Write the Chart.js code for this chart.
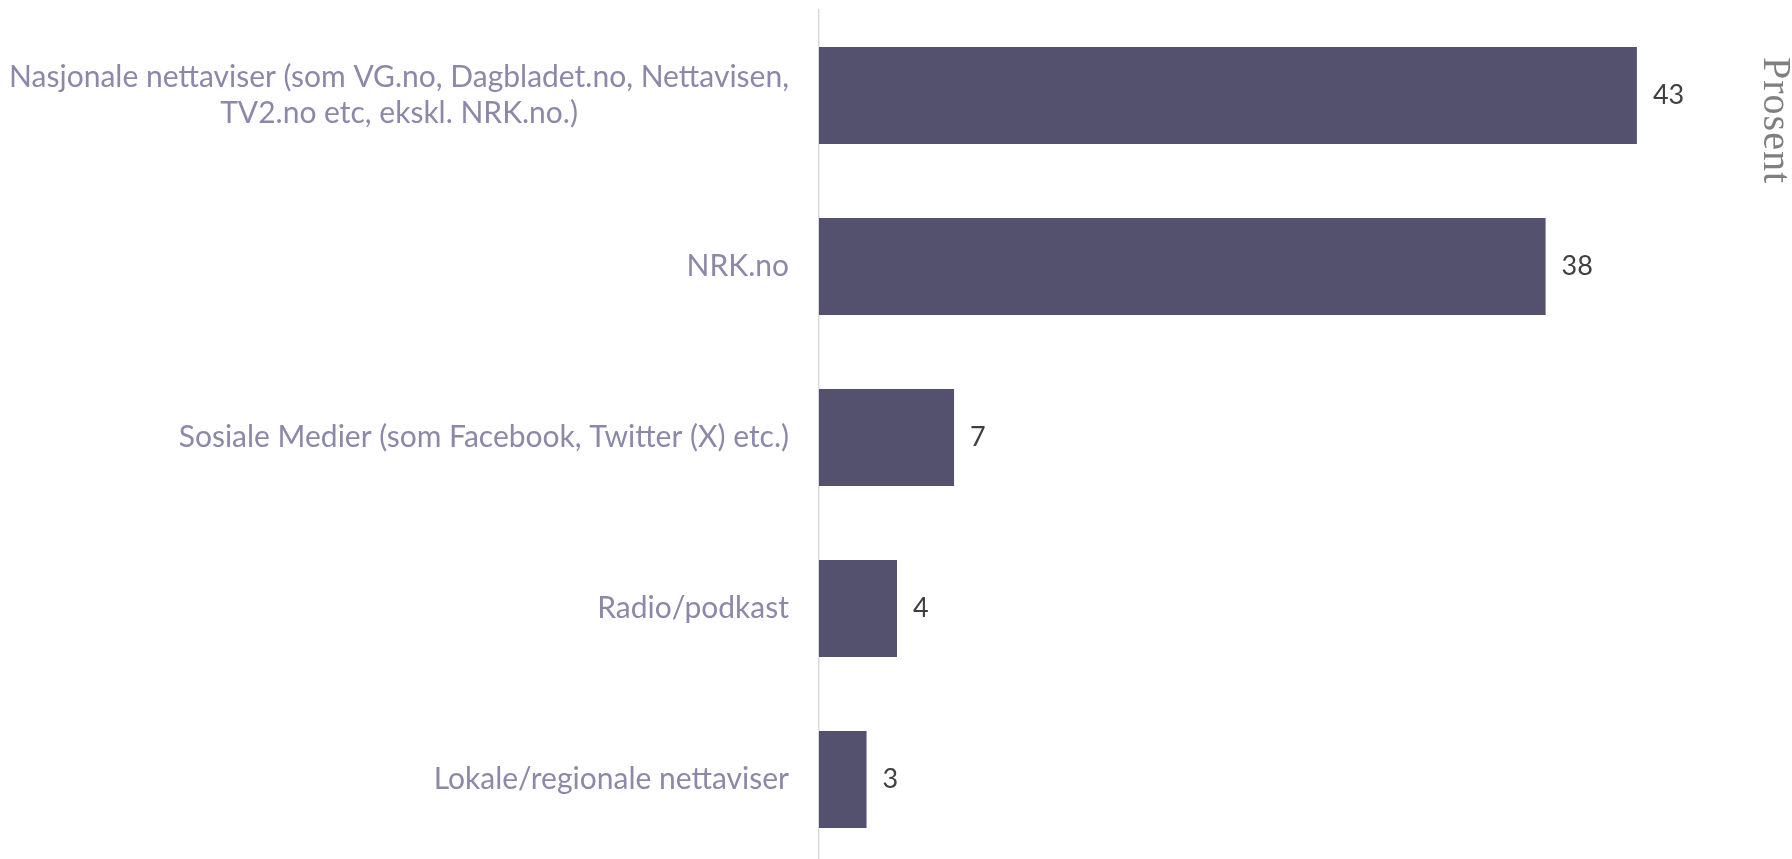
<!DOCTYPE html>
<html>
<head>
<meta charset="utf-8">
<script src="https://cdn.jsdelivr.net/npm/chart.js@4.4.1/dist/chart.umd.min.js"></script>
<style>
    html, body { margin: 0; padding: 0; background: #ffffff; overflow: hidden; }
    #wrap { width: 1792px; height: 866px; }
</style>
</head>
<body>
<div id="wrap"><canvas id="chart" width="1792" height="866"></canvas></div>
<script>
// 카테고리 (두 줄 라벨은 배열)
const categories = [
    ['Nasjonale nettaviser (som VG.no, Dagbladet.no, Nettavisen,', 'TV2.no etc, ekskl. NRK.no.)'],
    'NRK.no',
    'Sosiale Medier (som Facebook, Twitter (X) etc.)',
    'Radio/podkast',
    'Lokale/regionale nettaviser'
];
// 값 (퍼센트)
const shares = [43, 38.2, 7.1, 4.1, 2.5];
const axisTitle = 'Prosent';

const labelFont = '30px Lato';
const valueFont = '27px Lato';
const labelColor = '#8b88aa';
const valueColor = '#404040';
const barColor = '#54516f';

// 카테고리 라벨: 여러 줄은 가운데 정렬, 블록은 오른쪽 정렬
const categoryLabels = {
    id: 'categoryLabels',
    afterDraw(chart) {
        const ctx = chart.ctx;
        const yScale = chart.scales.y;
        const right = chart.chartArea.left - 30;
        const lineHeight = 36;
        ctx.save();
        ctx.font = labelFont;
        ctx.fillStyle = labelColor;
        ctx.textBaseline = 'middle';
        categories.forEach((label, i) => {
            const lines = Array.isArray(label) ? label : [label];
            const y = yScale.getPixelForValue(i);
            const widest = Math.max(...lines.map(l => ctx.measureText(l).width));
            const cx = right - widest / 2;
            ctx.textAlign = 'center';
            lines.forEach((line, k) => {
                const ly = y + (k - (lines.length - 1) / 2) * lineHeight;
                ctx.fillText(line, cx, ly);
            });
        });
        ctx.restore();
    }
};

// 막대 끝 값 라벨
const valueLabels = {
    id: 'valueLabels',
    afterDatasetsDraw(chart) {
        const ctx = chart.ctx;
        const meta = chart.getDatasetMeta(0);
        ctx.save();
        ctx.font = valueFont;
        ctx.fillStyle = valueColor;
        ctx.textAlign = 'left';
        ctx.textBaseline = 'middle';
        meta.data.forEach((bar, i) => {
            ctx.fillText(String(Math.round(shares[i])), bar.x + 16, bar.y);
        });
        ctx.restore();
    }
};

// 오른쪽 세로 제목
const sideTitle = {
    id: 'sideTitle',
    afterDraw(chart) {
        const ctx = chart.ctx;
        ctx.save();
        ctx.translate(chart.width - 28.5, 57);
        ctx.rotate(Math.PI / 2);
        ctx.font = '40px "Liberation Serif"';
        ctx.letterSpacing = '1px';
        ctx.fillStyle = '#7f7f7f';
        ctx.textAlign = 'left';
        ctx.textBaseline = 'alphabetic';
        ctx.fillText(axisTitle, 0, 0);
        ctx.restore();
    }
};

new Chart(document.getElementById('chart'), {
    type: 'bar',
    data: {
        labels: categories,
        datasets: [{
            data: shares,
            backgroundColor: barColor,
            borderWidth: 0,
            barPercentage: 0.567,
            categoryPercentage: 1
        }]
    },
    options: {
        indexAxis: 'y',
        responsive: false,
        animation: false,
        layout: {
            padding: { left: 819, right: 60, top: 10, bottom: 1 }
        },
        plugins: {
            legend: { display: false },
            tooltip: { enabled: false }
        },
        scales: {
            x: {
                display: false,
                min: 0,
                max: 48
            },
            y: {
                ticks: { display: false },
                grid: { display: false, drawTicks: false },
                border: { display: true, color: '#d9d9d9', width: 1.5 }
            }
        }
    },
    plugins: [categoryLabels, valueLabels, sideTitle]
});
</script>
</body>
</html>
